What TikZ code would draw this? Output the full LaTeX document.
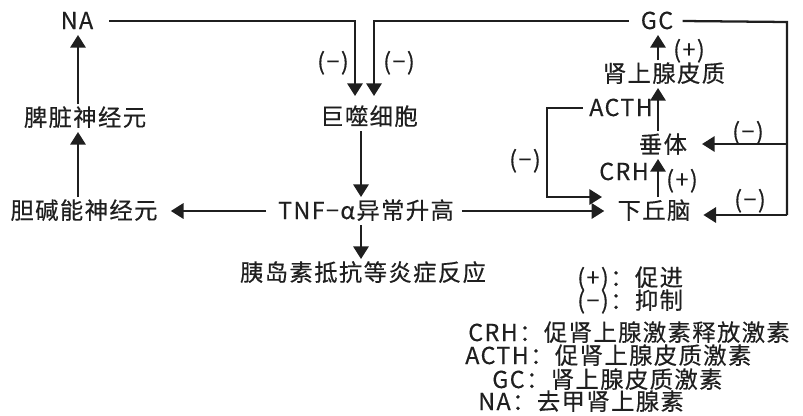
\documentclass[tikz,border=0pt]{standalone}
\usepackage{fontspec}
\setmainfont[LetterSpace=6,FakeBold=0.4]{Noto Sans CJK SC}
\usetikzlibrary{arrows.meta,calc}
\begin{document}
\begin{tikzpicture}[x=0.75pt,y=-0.75pt,
  txt/.style={inner sep=0pt, text height=13.5pt, text depth=1.5pt, font=\fontsize{17.5}{20}\selectfont, text=black!88},
  lbl/.style={txt, outer sep=3pt},
  ln/.style={line width=1.7pt, draw=black!88},
  arr/.style={ln, -{Triangle[length=9.5pt,width=11.5pt]}}]
\useasboundingbox (0,0) rectangle (803,415);

% main nodes
\node[lbl] (NA) at (77,21) {NA};
\node[lbl] (spleen) at (85,118) {脾脏神经元};
\node[lbl] (chol) at (84,211) {胆碱能神经元};
\node[lbl] (mac) at (369,117) {巨噬细胞};
\node[lbl] (tnf) at (366,211) {TNF−α异常升高};
\node[lbl] (ins) at (363,273) {胰岛素抵抗等炎症反应};
\node[lbl] (hypo) at (654,211) {下丘脑};
\node[lbl] (pit) at (663,145) {垂体};
\node[lbl] (adr) at (664,74) {肾上腺皮质};
\node[lbl] (GC) at (657,21) {GC};
\node[lbl] (acth) at (621,108) {ACTH};
\node[txt] (crh) at (624,172) {CRH};

% column coordinates
\coordinate (lx) at (78,0);
\coordinate (mx) at (361,0);
\coordinate (rx) at (658,0);
\coordinate (ax) at (355,0);
\coordinate (bx) at (374,0);
\coordinate (lpc) at (547,197);
\coordinate (lpe) at (602,197);
\coordinate (fbt) at (787,22);
\coordinate (fbm) at (787,144);
\coordinate (fbb) at (787,215);

% connectors
\draw[arr] (spleen.north -| lx) -- (NA.south -| lx);
\draw[arr] (chol.north -| lx) -- (spleen.south -| lx);
\draw[arr] ([xshift=-6pt]tnf.west) -- ([xshift=7pt]chol.east);
\draw[arr] ([xshift=9pt]NA.east) -| ($(mac.north -| ax)+(0,-7)$);
\draw[arr] ([xshift=-6pt]GC.west) -| ($(mac.north -| bx)+(0,-7)$);
\draw[arr] (mac.south -| mx) -- (tnf.north -| mx);
\draw[arr] (tnf.south -| mx) -- (ins.north -| mx);
\draw[arr] ([xshift=3pt]tnf.east) -- ([xshift=-7pt]hypo.west);
\draw[arr] (hypo.north -| rx) -- (pit.south -| rx);
\draw[arr] (pit.north -| rx) -- (adr.south -| rx);
\draw[arr] (adr.north -| rx) -- (GC.south -| rx);
\draw[arr] ([xshift=-2pt]acth.west) -| (lpc) -- (lpe);
\draw[ln] ([xshift=4pt]GC.east) -- (fbt) -- (fbb);
\draw[arr] (fbb) -- ($(hypo.east)+(9,4)$);
\draw[arr] (fbm) -- ($(pit.east)+(11,-1)$);

% effect labels
\node[txt] (m1) at (333,62) {(−)};
\node[txt] (m2) at (399,62) {(−)};
\node[txt] (m3) at (525,160) {(−)};
\node[txt] (m4) at (748,132) {(−)};
\node[txt] (m5) at (750,200) {(−)};
\node[txt] (p1) at (689,50) {(+)};
\node[txt] (p2) at (682,180) {(+)};

% legend
\node[txt, anchor=west] (l1) at (577,278) {(+)：促进};
\node[txt, anchor=west] (l2) at (577,301) {(−)：抑制};
\node[txt, anchor=west] (l3) at (468,333) {CRH：促肾上腺激素释放激素};
\node[txt, anchor=west] (l4) at (465,356) {ACTH：促肾上腺皮质激素};
\node[txt, anchor=west] (l5) at (492,380) {GC：肾上腺皮质激素};
\node[txt, anchor=west] (l6) at (478,402) {NA：去甲肾上腺素};
\end{tikzpicture}
\end{document}
